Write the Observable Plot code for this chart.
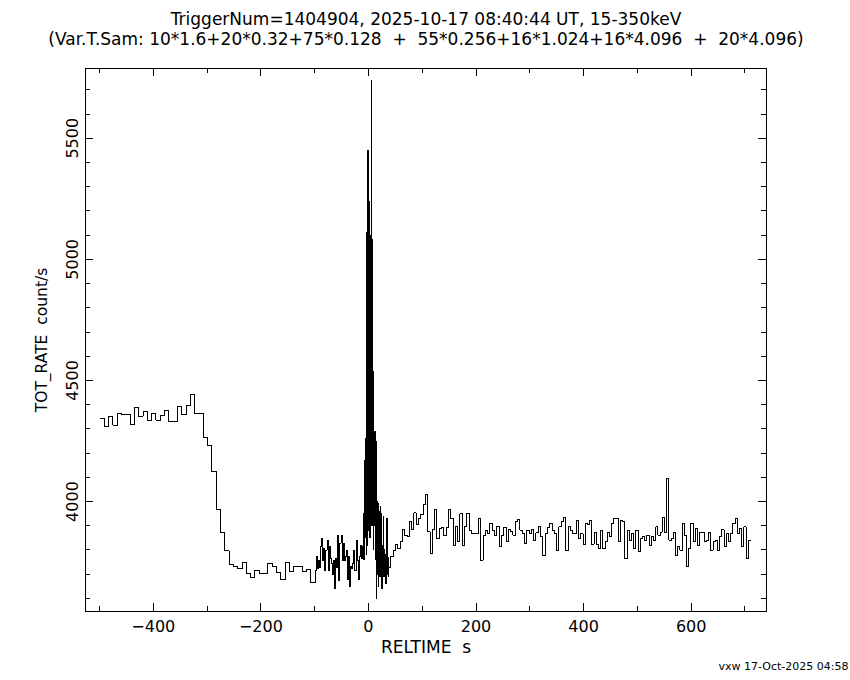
<!DOCTYPE html>
<html><head><meta charset="utf-8">
<script src="https://cdn.jsdelivr.net/npm/d3@7"></script>
<script src="https://cdn.jsdelivr.net/npm/@observablehq/plot@0.6"></script>
<style>
body{margin:0;background:#fff}
svg{display:block}
svg text{white-space:pre}
</style>
</head><body><div id="chart"></div>
<script>
const titleLine1 = "TriggerNum=1404904, 2025-10-17 08:40:44 UT, 15-350keV";
const titleLine2 = "(Var.T.Sam: 10*1.6+20*0.32+75*0.128  +  55*0.256+16*1.024+16*4.096  +  20*4.096)";
const xLabel = "RELTIME  s";
const yLabel = "TOT_RATE  count/s";
const caption = "vxw 17-Oct-2025 04:58";

const xMajorTicks = [-400, -200, 0, 200, 400, 600];
const xMinorTicks = [-500, -300, -100, 100, 300, 500, 700];
const yMajorTicks = [4000, 4500, 5000, 5500];
const yMinorTicks = [3600, 3700, 3800, 3900, 4100, 4200, 4300, 4400, 4600, 4700, 4800, 4900, 5100, 5200, 5300, 5400, 5600, 5700];

// light-curve segments (bin start time, bin width, rates in count/s)
const preStart = -499, preBin = 8;
const preRates = [4343, 4311, 4352, 4315, 4363, 4360, 4360, 4319, 4388, 4352, 4370, 4334, 4363, 4336, 4356, 4374, 4330, 4330, 4392, 4360, 4398, 4442, 4362, 4363, 4264, 4231, 4124, 3968, 3872, 3796, 3741, 3730, 3723, 3747, 3703, 3686, 3716, 3703, 3703, 3744, 3730, 3707, 3678, 3747, 3713, 3730, 3730, 3713, 3719, 3665];

const noiseStart = -99, noiseBin = 2;
const noiseRates = [3716, 3772, 3723, 3758, 3727, 3813, 3847, 3758, 3806, 3716, 3799, 3840, 3716, 3813, 3765, 3744, 3700, 3758, 3641, 3765, 3727, 3861, 3675, 3827, 3861, 3758, 3827, 3758, 3772, 3799, 3678, 3772, 3648, 3730, 3723, 3744, 3799, 3714, 3840, 3758, 3678, 3772, 3820, 3765, 3813];

const burstStart = -9, burstBin = 0.5;
const burstRates = [3950, 3760, 4060, 3800, 4170, 3850, 4210, 3900, 4260, 3780, 4060, 3870, 5110, 3900, 5250, 3820, 5450, 3950, 5220, 3880, 5240, 4000, 5080, 3850, 5100, 3950, 5060, 3900, 5080, 4050, 5737, 3900, 5080, 3950, 4540, 3800, 4270, 3850, 4080];

const tailStart = 10.5, tailBin = 1;
const tailRates = [3900, 4290, 3760, 4250, 3600, 4000, 3700, 3990, 3650, 3960, 3690, 3980, 3720, 3950, 3640, 3820, 3700, 3940, 3690, 3800, 3700, 3780, 3660, 3930, 3700, 3770, 3690];

const postStart = 37.5, postBin = 4.28;
const postRates = [3727, 3774, 3796, 3824, 3806, 3833, 3884, 3861, 3857, 3916, 3884, 3953, 3906, 3930, 3948, 3989, 4030, 3875, 3785, 3884, 3967, 3847, 3888, 3893, 3861, 3893, 3967, 3930, 3820, 3895, 3833, 3950, 3820, 3895, 3950, 3882, 3868, 3868, 3868, 3930, 3758, 3861, 3882, 3868, 3909, 3882, 3861, 3898, 3813, 3861, 3893, 3833, 3884, 3875, 3861, 3916, 3926, 3882, 3868, 3827, 3882, 3868, 3884, 3840, 3871, 3895, 3857, 3778, 3868, 3893, 3909, 3882, 3868, 3799, 3895, 3916, 3934, 3799, 3895, 3882, 3868];

const lateStart = 386.6, lateBin = 4.096;
const lateRates = [3923, 3847, 3868, 3824, 3909, 3906, 3923, 3824, 3874, 3824, 3806, 3881, 3806, 3833, 3874, 3854, 3909, 3929, 3929, 3833, 3923, 3916, 3764, 3881, 3840, 3868, 3806, 3881, 3792, 3847, 3854, 3840, 3861, 3819, 3857, 3840, 3895, 3861, 3874, 3936, 3874, 4095, 3840, 3847, 3874, 3778, 3813, 3799, 3909, 3861, 3730, 3806, 3909, 3833, 3888, 3819, 3874, 3874, 3833, 3840, 3874, 3799, 3833, 3840, 3799, 3854, 3884, 3813, 3868, 3833, 3868, 3909, 3929, 3868, 3888, 3813, 3895, 3764, 3840];

const segments = [
  [preStart, preBin, preRates],
  [noiseStart, noiseBin, noiseRates],
  [burstStart, burstBin, burstRates],
  [tailStart, tailBin, tailRates],
  [postStart, postBin, postRates],
  [lateStart, lateBin, lateRates]
];
const points = [];
for (const [t0, dt, rates] of segments) {
  rates.forEach((r, i) => points.push({t: t0 + i * dt, rate: r}));
}
const lastSeg = segments[segments.length - 1];
points.push({t: lastSeg[0] + lastSeg[2].length * lastSeg[1], rate: lastSeg[2][lastSeg[2].length - 1]});

const W = 850, H = 680;
const mL = 85, mR = 84, mT = 68, mB = 69;
const fw = W - mL - mR, fh = H - mT - mB;
const majLen = 8, minLen = 5;
const fmt = d => d < 0 ? "\u2212" + Math.abs(d) : String(d);
const FW = 400;

const chart = Plot.plot({
  width: W, height: H,
  marginLeft: mL, marginRight: mR, marginTop: mT, marginBottom: mB,
  style: {fontFamily: "DejaVu Sans", fontSize: "16px", color: "black", background: "white"},
  x: {domain: [-526, 740], axis: null},
  y: {domain: [3546, 5788], axis: null},
  marks: [
    Plot.line(points, {x: "t", y: "rate", curve: "step-after", stroke: "black", strokeWidth: 1, shapeRendering: "crispEdges"}),
    Plot.frame({stroke: "black", strokeWidth: 1, shapeRendering: "crispEdges"}),
    // inward ticks, bottom & top
    Plot.tickX(xMajorTicks, {x: d => d, insetTop: fh - majLen, stroke: "black", shapeRendering: "crispEdges"}),
    Plot.tickX(xMinorTicks, {x: d => d, insetTop: fh - minLen, stroke: "black", shapeRendering: "crispEdges"}),
    Plot.tickX(xMajorTicks, {x: d => d, insetBottom: fh - majLen, stroke: "black", shapeRendering: "crispEdges"}),
    Plot.tickX(xMinorTicks, {x: d => d, insetBottom: fh - minLen, stroke: "black", shapeRendering: "crispEdges"}),
    // inward ticks, left & right
    Plot.tickY(yMajorTicks, {y: d => d, insetRight: fw - majLen, stroke: "black", shapeRendering: "crispEdges"}),
    Plot.tickY(yMinorTicks, {y: d => d, insetRight: fw - minLen, stroke: "black", shapeRendering: "crispEdges"}),
    Plot.tickY(yMajorTicks, {y: d => d, insetLeft: fw - majLen, stroke: "black", shapeRendering: "crispEdges"}),
    Plot.tickY(yMinorTicks, {y: d => d, insetLeft: fw - minLen, stroke: "black", shapeRendering: "crispEdges"}),
    // tick labels
    Plot.text(xMajorTicks, {x: d => d, text: fmt, frameAnchor: "bottom", dy: 20, fontSize: 16, fontWeight: FW, fill: "black"}),
    Plot.text(yMajorTicks, {y: d => d, text: d => String(d), frameAnchor: "left", textAnchor: "middle", dx: -13, rotate: -90, fontSize: 16, fontWeight: FW, fill: "black"}),
    // axis labels
    Plot.text([xLabel], {text: d => d, frameAnchor: "bottom", dx: 0, dy: 41, fontSize: 17, fontWeight: FW, fill: "black"}),
    Plot.text([yLabel], {text: d => d, frameAnchor: "left", textAnchor: "middle", dx: -43, rotate: -90, fontSize: 15.5, fontWeight: FW, fill: "black"}),
    // titles
    Plot.text([titleLine1], {text: d => d, frameAnchor: "top", dy: -56, fontSize: 17, fontWeight: FW, fill: "black"}),
    Plot.text([titleLine2], {text: d => d, frameAnchor: "top", dy: -36, fontSize: 17, fontWeight: FW, fill: "black"}),
    // caption
    Plot.text([caption], {text: d => d, frameAnchor: "bottom-right", dx: 82, dy: 58, textAnchor: "end", fontSize: 11, fontWeight: FW, fill: "black"})
  ]
});
document.getElementById("chart").append(chart);
</script>
</body></html>
